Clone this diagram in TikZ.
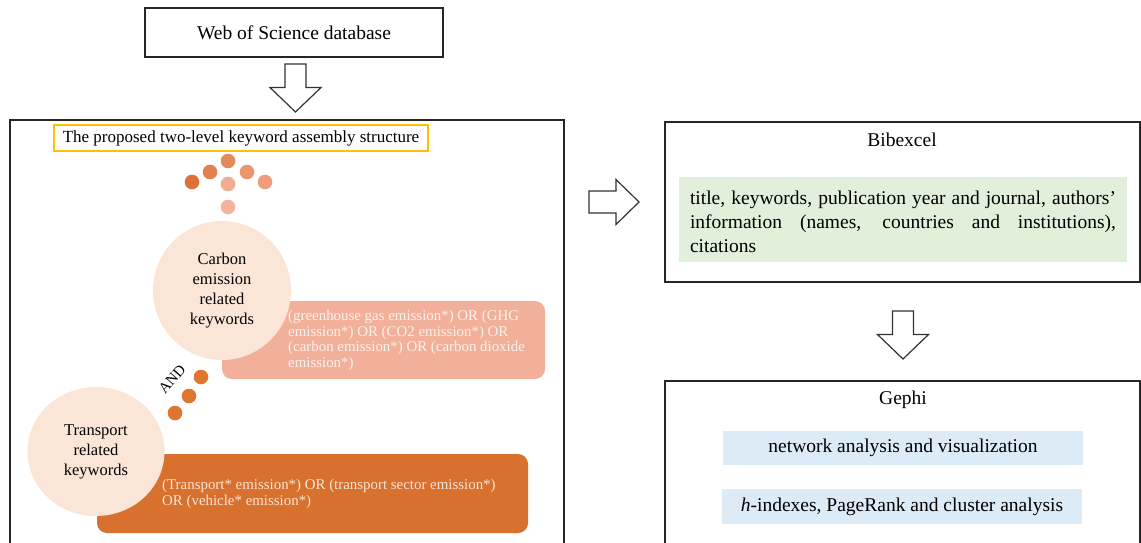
\documentclass[tikz,border=0pt]{standalone}
\usepackage{fontspec}
\setmainfont{Liberation Serif}
\usetikzlibrary{shapes.geometric}
\definecolor{peach}{HTML}{FBE5D6}
\definecolor{salmon}{HTML}{F2B09A}
\definecolor{dorange}{HTML}{D8702E}
\definecolor{salmtxt}{HTML}{FDF1EB}
\definecolor{gfill}{HTML}{E2EFDA}
\definecolor{bfill}{HTML}{DDEBF7}
\definecolor{ybord}{HTML}{FFC000}
\definecolor{dotA}{HTML}{DC7238}
\definecolor{dotB}{HTML}{E0814F}
\definecolor{dotC}{HTML}{E38A5C}
\definecolor{dotD}{HTML}{EC9670}
\definecolor{dotE}{HTML}{EE9C7C}
\definecolor{dotF}{HTML}{F2AC90}
\definecolor{dotG}{HTML}{F4B39B}
\definecolor{dotH}{HTML}{DF752F}
\begin{document}
\begin{tikzpicture}[x=1pt,y=-1pt,
  mainfont/.style={font=\fontsize{19.5}{24}\selectfont},
  boxed/.style={draw=black!85,line width=1.6pt,rectangle,inner sep=0pt},
  titletext/.style={mainfont,inner sep=0pt},
  subbox/.style={rectangle,inner sep=0pt,draw=none},
  kwcircle/.style={ellipse,fill=peach,draw=none,inner sep=0pt,align=center,font=\fontsize{16.5}{20}\selectfont},
  qbox/.style={rectangle,rounded corners=10pt,draw=none,inner sep=0pt},
  qtext/.style={inner sep=0pt,align=left,font=\fontsize{14.9}{15.8}\selectfont},
  kdot/.style={circle,minimum size=14.6pt,inner sep=0pt,draw=none},
  blockarrow/.style={draw=black!80,line width=1.2pt,fill=white,line join=miter},
  downarr/.pic={\path[blockarrow] (-10.5,0) -- (10.5,0) -- (10.5,23.5) -- (25.5,23.5) -- (0,48) -- (-25.5,23.5) -- (-10.5,23.5) -- cycle;},
  rightarr/.pic={\path[blockarrow] (0,-11) -- (27,-11) -- (27,-22.5) -- (50,0) -- (27,22.5) -- (27,11) -- (0,11) -- cycle;}
]
\useasboundingbox (0,0) rectangle (1141,543);
\fill[white] (0,0) rectangle (1141,543);

% Web of Science
\node[boxed,mainfont,minimum width=298pt,minimum height=49pt] (wos) at (294,32.5) {Web of Science database};
\pic at (295.5,64) {downarr};

% left big box
\node[boxed,minimum width=554pt,minimum height=428pt] (lbox) at (287,334) {};
\node[draw=ybord,line width=1.5pt,rectangle,inner sep=0pt,minimum width=374pt,minimum height=26pt,font=\fontsize{17}{20}\selectfont] (ytitle) at (241,138) {The proposed two-level keyword assembly structure};

% dots
\node[kdot,fill=dotC] (d1) at (228,161) {};
\node[kdot,fill=dotB] (d2) at (210,172) {};
\node[kdot,fill=dotA] (d3) at (192,182) {};
\node[kdot,fill=dotD] (d4) at (247,172) {};
\node[kdot,fill=dotE] (d5) at (265,182) {};
\node[kdot,fill=dotF] (d6) at (228,184) {};
\node[kdot,fill=dotG] (d7) at (228,207) {};

% carbon query
\node[qbox,fill=salmon,minimum width=323pt,minimum height=78pt] (cq) at (383.5,340) {};
\node[qtext,text=salmtxt,anchor=west] (cqt) at (288,340.5) {(greenhouse gas emission*) OR (GHG\\emission*) OR (CO2 emission*) OR\\(carbon emission*) OR (carbon dioxide\\emission*)};
\node[kwcircle,minimum width=138pt,minimum height=139pt] (carbon) at (222,290.5) {Carbon\\emission\\related\\keywords};

% AND
\node[inner sep=0pt,rotate=49,font=\fontsize{15}{17}\selectfont] (and) at (172,379) {AND};
\node[kdot,fill=dotH] (a1) at (201,377) {};
\node[kdot,fill=dotH] (a2) at (189,396) {};
\node[kdot,fill=dotH] (a3) at (175,413) {};

% transport query
\node[qbox,fill=dorange,minimum width=431pt,minimum height=79pt] (tq) at (312.5,493.5) {};
\node[qtext,text=peach,anchor=west] (tqt) at (162,494) {(Transport* emission*) OR (transport sector emission*)\\OR (vehicle* emission*)};
\node[kwcircle,minimum width=137pt,minimum height=129pt] (transport) at (96,451.5) {Transport\\related\\keywords};

% right arrow
\pic at (589,202) {rightarr};

% Bibexcel
\node[boxed,minimum width=475pt,minimum height=160pt] (bib) at (902.5,202) {};
\node[titletext] (bibt) at (902,140) {Bibexcel};
\node[subbox,fill=gfill,minimum width=448pt,minimum height=85pt] (bibg) at (903,219) {};
\node[titletext,text width=426pt,align=justify] (bibtxt) at (903,221.5) {\hyphenpenalty=10000 title, keywords, publication year and journal, authors’\linebreak information (names, countries and institutions),\linebreak citations};

\pic at (903,311) {downarr};

% Gephi
\node[boxed,minimum width=475pt,minimum height=166pt] (gephi) at (902.5,464) {};
\node[titletext] (gepht) at (903,400) {Gephi};
\node[subbox,fill=bfill,minimum width=360pt,minimum height=34pt,mainfont] (g1) at (903,448) {network analysis and visualization};
\node[subbox,fill=bfill,minimum width=360pt,minimum height=35pt,mainfont] (g2) at (902,506.5) {\textit{h}-indexes, PageRank and cluster analysis};
\end{tikzpicture}
\end{document}
